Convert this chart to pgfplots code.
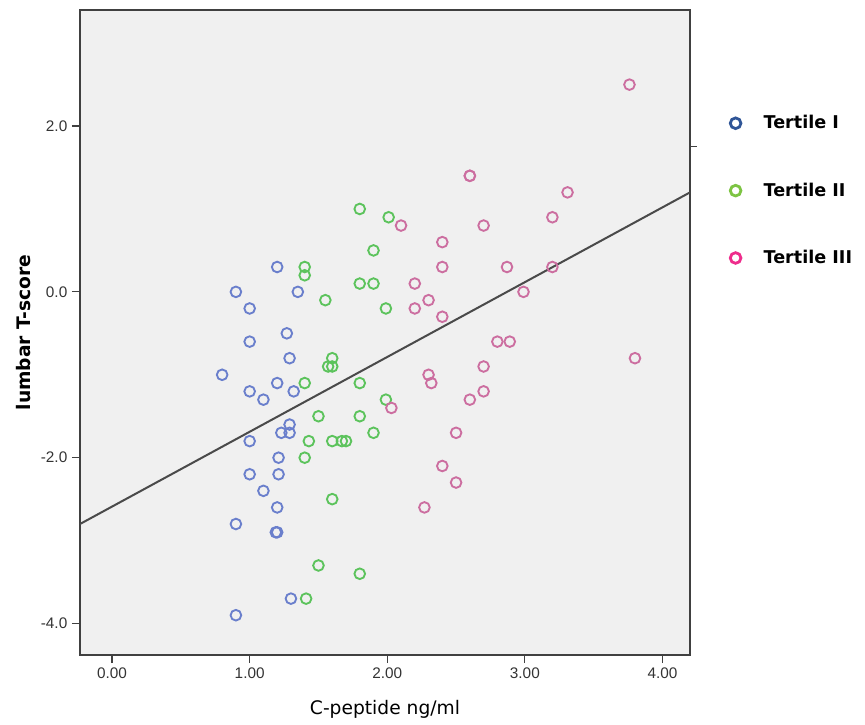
\documentclass[border=0pt]{standalone}
\usepackage{fontspec}
\setmainfont{Liberation Sans}
\newfontfamily\labfont{DejaVu Sans}
\usepackage{pgfplots}
\pgfplotsset{compat=1.18}
\definecolor{bgray}{HTML}{F0F0F0}
\definecolor{ptblue}{HTML}{6A7FCC}
\definecolor{ptgreen}{HTML}{5CC35C}
\definecolor{ptpink}{HTML}{CC6EA0}
\definecolor{legblue}{HTML}{2F5597}
\definecolor{leggreen}{HTML}{7DC443}
\definecolor{legpink}{HTML}{EE2D8C}
\definecolor{fitline}{HTML}{4A4A4A}

\begin{document}
\begin{tikzpicture}
\begin{axis}[
  scale only axis, width=457.5pt, height=483.75pt,
  xmin=-0.233, xmax=4.20, ymin=-4.38, ymax=3.40,
  axis background/.style={fill=bgray},
  axis line style={black!75, line width=0.9pt},
  xtick={0,1,2,3,4}, ytick={-4,-2,0,2},
  xtick pos=bottom, ytick pos=left,
  tick align=outside, major tick length=6pt,
  tick style={black!75, line width=0.9pt},
  xticklabel style={/pgf/number format/.cd, fixed, fixed zerofill, precision=2},
  yticklabel style={/pgf/number format/.cd, fixed, fixed zerofill, precision=1},
  /pgf/number format/assume math mode=true,
  tick label style={font=\fontsize{11.5}{13}\selectfont, text=black!80},
  xlabel={\labfont C-peptide ng/ml},
  ylabel={\labfont\bfseries lumbar T-score},
  xlabel style={at={(axis description cs:0.5,-0.085)}, anchor=center, font=\fontsize{14}{16}\selectfont},
  ylabel style={at={(axis description cs:-0.092,0.5)}, anchor=center, font=\fontsize{14}{16}\selectfont},
  legend style={at={(1.0,0.845)}, anchor=north west, xshift=27pt, draw=none, fill=none,
    font=\labfont\bfseries\fontsize{13.2}{15}\selectfont, row sep=35pt,
    /tikz/every odd column/.append style={column sep=15pt}},
  legend cell align=left,
  clip=false,
]
\addlegendimage{only marks, mark=o, mark size=4pt, line width=2.1pt, draw=legblue}
\addlegendentry{Tertile I}
\addlegendimage{only marks, mark=o, mark size=4pt, line width=2.1pt, draw=leggreen}
\addlegendentry{Tertile II}
\addlegendimage{only marks, mark=o, mark size=4pt, line width=2.1pt, draw=legpink}
\addlegendentry{Tertile III}

% Tertile I
\addplot[forget plot, only marks, mark=o, mark size=4pt, line width=1.4pt, draw=ptblue] coordinates {
 (1.20,0.3) (0.90,0.0) (1.35,0.0) (1.00,-0.2) (1.27,-0.5) (1.00,-0.6)
 (1.29,-0.8) (0.80,-1.0) (1.20,-1.1) (1.00,-1.2) (1.32,-1.2) (1.10,-1.3)
 (1.29,-1.6) (1.23,-1.7) (1.29,-1.7) (1.00,-1.8) (1.21,-2.0) (1.00,-2.2)
 (1.21,-2.2) (1.10,-2.4) (1.20,-2.6) (0.90,-2.8) (1.19,-2.9) (1.20,-2.9)
 (1.30,-3.7) (0.90,-3.9)
};
% Tertile II
\addplot[forget plot, only marks, mark=o, mark size=4pt, line width=1.4pt, draw=ptgreen] coordinates {
 (1.40,0.3) (1.40,0.2) (1.80,1.0) (2.01,0.9) (1.90,0.5) (1.80,0.1)
 (1.90,0.1) (1.55,-0.1) (1.99,-0.2) (1.60,-0.8) (1.57,-0.9) (1.60,-0.9)
 (1.40,-1.1) (1.80,-1.1) (1.99,-1.3) (1.50,-1.5) (1.80,-1.5) (1.90,-1.7)
 (1.43,-1.8) (1.60,-1.8) (1.67,-1.8) (1.70,-1.8) (1.40,-2.0) (1.60,-2.5)
 (1.50,-3.3) (1.80,-3.4) (1.41,-3.7)
};
% Tertile III
\addplot[forget plot, only marks, mark=o, mark size=4pt, line width=1.4pt, draw=ptpink] coordinates {
 (3.76,2.5) (2.60,1.4) (2.60,1.4) (3.31,1.2) (3.20,0.9) (2.10,0.8)
 (2.70,0.8) (2.40,0.6) (2.40,0.3) (2.87,0.3) (3.20,0.3) (2.20,0.1)
 (2.99,0.0) (2.30,-0.1) (2.20,-0.2) (2.40,-0.3) (2.80,-0.6) (2.89,-0.6)
 (3.80,-0.8) (2.70,-0.9) (2.30,-1.0) (2.32,-1.1) (2.70,-1.2) (2.60,-1.3)
 (2.03,-1.4) (2.50,-1.7) (2.40,-2.1) (2.50,-2.3) (2.27,-2.6)
};
% fit line
\addplot[forget plot, fitline, line width=1.5pt] coordinates {(-0.233,-2.80) (4.20,1.20)};
% small stray tick on the right frame
\draw[black!75, line width=0.9pt] (axis cs:4.20,1.75) -- ([xshift=5pt]axis cs:4.20,1.75);
\end{axis}
\pgfresetboundingbox
\path (current axis.south west) ++(-60pt,-51.75pt) coordinate (bbsw);
\path (current axis.north east) ++(131.25pt,7.5pt) coordinate (bbne);
\useasboundingbox (bbsw) rectangle (bbne);
\end{tikzpicture}
\end{document}
